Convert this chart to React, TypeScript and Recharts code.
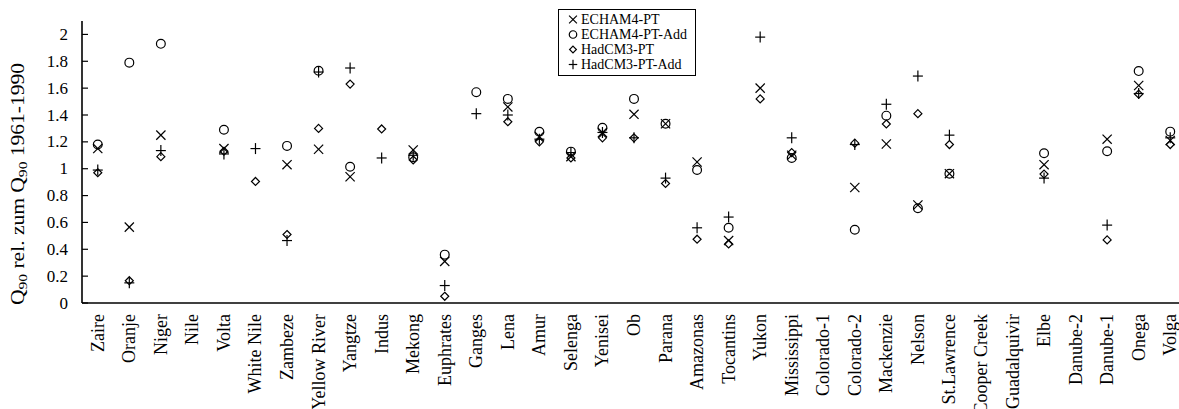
import React from "react";
import { ScatterChart, Scatter, XAxis, YAxis, Legend } from "recharts";

const categories = [
  "Zaire", "Oranje", "Niger", "Nile", "Volta", "White Nile", "Zambeze",
  "Yellow River", "Yangtze", "Indus", "Mekong", "Euphrates", "Ganges", "Lena",
  "Amur", "Selenga", "Yenisei", "Ob", "Parana", "Amazonas", "Tocantins",
  "Yukon", "Mississippi", "Colorado-1", "Colorado-2", "Mackenzie", "Nelson",
  "St.Lawrence", "Cooper Creek", "Guadalquivir", "Elbe", "Danube-2",
  "Danube-1", "Onega", "Volga",
];

// ×
const echamPt = [
  1.15, 0.565, 1.25, null, 1.15, null, 1.03, 1.145, 0.94, null, 1.14, 0.31,
  null, 1.46, 1.24, 1.09, 1.27, 1.405, 1.335, 1.05, 0.465, 1.6, 1.1, null,
  0.86, 1.184, 0.73, 0.963, null, null, 1.03, null, 1.22, 1.62, 1.21,
];
// ○
const echamPtAdd = [
  1.18, 1.79, 1.93, null, 1.29, null, 1.17, 1.73, 1.015, null, 1.085, 0.36,
  1.57, 1.52, 1.275, 1.127, 1.305, 1.52, 1.335, 0.99, 0.56, null, 1.08, null,
  0.545, 1.395, 0.706, 0.963, null, null, 1.115, null, 1.13, 1.727, 1.276,
];
// ◇
const hadcmPt = [
  0.97, 0.166, 1.09, null, 1.13, 0.905, 0.51, 1.3, 1.63, 1.296, 1.065, 0.05,
  null, 1.35, 1.2, 1.08, 1.23, 1.23, 0.89, 0.475, 0.44, 1.52, 1.12, null,
  1.19, 1.333, 1.41, 1.18, null, null, 0.96, null, 0.47, 1.555, 1.18,
];
// +
const hadcmPtAdd = [
  0.99, 0.15, 1.135, null, 1.11, 1.15, 0.465, 1.72, 1.75, 1.08, 1.1, 0.13,
  1.41, 1.4, 1.22, 1.12, 1.27, 1.23, 0.93, 0.56, 0.64, 1.98, 1.23, null,
  1.18, 1.48, 1.69, 1.25, null, null, 0.93, null, 0.58, 1.56, 1.23,
];

const yTicks = [0, 0.2, 0.4, 0.6, 0.8, 1, 1.2, 1.4, 1.6, 1.8, 2];

type Kind = "x" | "o" | "d" | "p";

const series: { name: string; kind: Kind; values: (number | null)[] }[] = [
  { name: "ECHAM4-PT", kind: "x", values: echamPt },
  { name: "ECHAM4-PT-Add", kind: "o", values: echamPtAdd },
  { name: "HadCM3-PT", kind: "d", values: hadcmPt },
  { name: "HadCM3-PT-Add", kind: "p", values: hadcmPtAdd },
];

const FONT = "'Liberation Serif', 'Times New Roman', serif";

// category centres sit at i + 0.5 on a 0..n number axis
const toRows = (values: (number | null)[]) =>
  values
    .map((v, i) => ({ x: i + 0.5, y: v }))
    .filter((r) => r.y !== null);

const centerTicks = categories.map((_, i) => i + 0.5);
const boundaryTicks = categories.slice(1).map((_, i) => i + 1);

function Marker({ kind, cx, cy, s = 1 }: { kind: Kind; cx: number; cy: number; s?: number }) {
  const st = { stroke: "#000", strokeWidth: 1.2, fill: "none" };
  if (kind === "x") {
    const h = 4.6 * s;
    return (
      <g {...st}>
        <line x1={cx - h} y1={cy - h} x2={cx + h} y2={cy + h} />
        <line x1={cx - h} y1={cy + h} x2={cx + h} y2={cy - h} />
      </g>
    );
  }
  if (kind === "o") return <circle cx={cx} cy={cy} r={4.4 * s} {...st} />;
  if (kind === "d") {
    const h = 4 * s;
    return (
      <path
        d={`M${cx},${cy - h}L${cx + h},${cy}L${cx},${cy + h}L${cx - h},${cy}Z`}
        {...st}
      />
    );
  }
  const h = 5 * s;
  return (
    <g {...st}>
      <line x1={cx - h} y1={cy} x2={cx + h} y2={cy} />
      <line x1={cx} y1={cy - h - 0.5} x2={cx} y2={cy + h + 0.5} />
    </g>
  );
}

function CategoryTick(props: any) {
  const { x, y, payload } = props;
  const label = categories[Math.floor(payload.value)];
  const ty = y + 11;
  return (
    <text
      x={x}
      y={ty}
      transform={`rotate(-90, ${x}, ${ty})`}
      textAnchor="end"
      dominantBaseline="central"
      fontFamily={FONT}
      fontSize={18}
      fill="#000"
    >
      {label}
    </text>
  );
}

function BoundaryTick(props: any) {
  const { x, y } = props;
  return <line x1={x} y1={y} x2={x} y2={y - 5} stroke="#000" strokeWidth={1.2} />;
}

function ValueTick(props: any) {
  const { x, y, payload } = props;
  return (
    <g>
      <line x1={x} y1={y} x2={x + 6} y2={y} stroke="#000" strokeWidth={1.2} />
      <text
        x={x - 14}
        y={y}
        textAnchor="end"
        dominantBaseline="central"
        fontFamily={FONT}
        fontSize={17}
        fill="#000"
      >
        {String(payload.value)}
      </text>
    </g>
  );
}

function YLabel() {
  const cx = 18;
  const cy = 184;
  return (
    <text
      x={cx}
      y={cy}
      transform={`rotate(-90, ${cx}, ${cy})`}
      textAnchor="middle"
      dominantBaseline="central"
      fontFamily={FONT}
      fontSize={18}
      fill="#000"
      textLength={242}
      lengthAdjust="spacingAndGlyphs"
    >
      Q
      <tspan fontSize={13} dy={4}>90</tspan>
      <tspan dy={-4}> rel. zum Q</tspan>
      <tspan fontSize={13} dy={4}>90</tspan>
      <tspan dy={-4}> 1961-1990</tspan>
    </text>
  );
}

function LegendBox(props: any) {
  const items = (props.payload || []) as { value: string }[];
  return (
    <div
      style={{
        border: "1px solid #000",
        background: "#fff",
        width: 138,
        padding: "2px 0 3px 0",
        fontFamily: FONT,
        fontSize: 14,
        lineHeight: "15px",
        color: "#000",
        boxSizing: "border-box",
      }}
    >
      {items.map((it) => {
        const s = series.find((d) => d.name === it.value);
        return (
          <div key={it.value} style={{ display: "flex", alignItems: "center", height: 15 }}>
            <svg width={22} height={15} style={{ flex: "none" }}>
              {s && <Marker kind={s.kind} cx={14} cy={7.5} s={0.85} />}
            </svg>
            <span>{it.value}</span>
          </div>
        );
      })}
    </div>
  );
}

export default function App() {
  return (
    <div
      style={{
        position: "absolute",
        left: 0,
        top: 0,
        width: 1179,
        height: 409,
        overflow: "hidden",
        background: "#fff",
      }}
    >
      <ScatterChart
        width={1190}
        height={409}
        margin={{ top: 21, right: 4, bottom: 0, left: 0 }}
      >
        <XAxis
          xAxisId="bnd"
          type="number"
          dataKey="x"
          domain={[0, categories.length]}
          ticks={boundaryTicks}
          height={0}
          axisLine={false}
          tickLine={false}
          tickSize={0}
          tickMargin={0}
          tick={<BoundaryTick />}
          interval={0}
        />
        <XAxis
          xAxisId="cat"
          type="number"
          dataKey="x"
          domain={[0, categories.length]}
          ticks={centerTicks}
          height={106}
          axisLine={{ stroke: "#000", strokeWidth: 1.6 }}
          tickLine={false}
          tickSize={0}
          tickMargin={0}
          tick={<CategoryTick />}
          interval={0}
        />
        <XAxis
          xAxisId="top"
          orientation="top"
          type="number"
          domain={[0, categories.length]}
          height={0}
          tick={false}
          tickLine={false}
          axisLine={{ stroke: "#000", strokeWidth: 1.4 }}
        />
        <YAxis
          type="number"
          dataKey="y"
          domain={[0, 2.1]}
          ticks={yTicks}
          width={82}
          axisLine={{ stroke: "#000", strokeWidth: 1.6 }}
          tickLine={false}
          tickSize={0}
          tickMargin={0}
          tick={<ValueTick />}
          interval={0}
          label={<YLabel />}
        />
        <Legend
          layout="horizontal"
          verticalAlign="middle"
          align="center"
          content={<LegendBox />}
          wrapperStyle={{ position: "absolute", left: 558, top: 9, width: 140 }}
        />
        {series.map((s) => (
          <Scatter
            key={s.name}
            name={s.name}
            xAxisId="cat"
            data={toRows(s.values)}
            isAnimationActive={false}
            shape={(p: any) => <Marker kind={s.kind} cx={p.cx} cy={p.cy} />}
          />
        ))}
      </ScatterChart>
    </div>
  );
}
